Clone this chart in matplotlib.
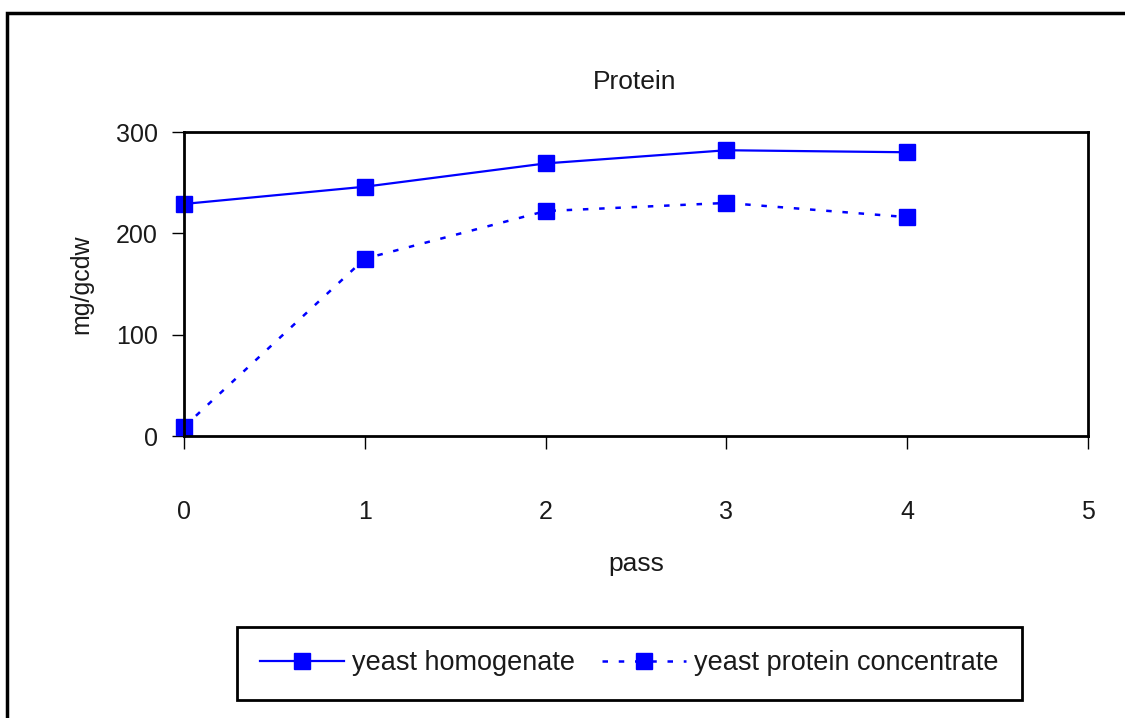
import matplotlib.pyplot as plt
from matplotlib.patches import Rectangle

# data
passes = [0, 1, 2, 3, 4]
homogenate = [229, 246, 269, 282, 280]
concentrate = [9, 175, 222, 230, 216]
x_ticks = [0, 1, 2, 3, 4, 5]
y_ticks = [0, 100, 200, 300]

plt.rcParams["font.family"] = ["Liberation Sans", "DejaVu Sans"]

W, H = 1125, 718
fig = plt.figure(figsize=(W / 100, H / 100), dpi=100)
ax = fig.add_axes([184 / W, 1 - 436 / H, (1088 - 184) / W, (436 - 132) / H])

blue = "#0000FF"
txt = "#1a1a1a"
ax.plot(passes, homogenate, color=blue, lw=1.6, marker="s", ms=11,
        label="yeast homogenate")
ax.plot(passes, concentrate, color=blue, lw=1.8, ls=(0, (2.2, 4.3)), marker="s", ms=11,
        label="yeast protein concentrate")

ax.set_xlim(0, 5)
ax.set_ylim(0, 300)
ax.set_xticks(x_ticks)
ax.set_yticks(y_ticks)
ax.tick_params(axis="x", length=9, width=1, pad=37, labelsize=18, labelcolor=txt)
ax.tick_params(axis="y", length=9, width=1, pad=10, labelsize=18, labelcolor=txt)
for s in ax.spines.values():
    s.set_linewidth(2)
for line in ax.lines:
    line.set_clip_on(False)

ax.set_xlabel("pass", fontsize=19, labelpad=20, color=txt)
ax.set_ylabel("mg/gcdw", fontsize=18, labelpad=16, color=txt)
fig.text(635 / W, 1 - 82 / H, "Protein", fontsize=19, ha="center", va="center", color=txt)

leg = fig.legend(loc="center", bbox_to_anchor=(629.5 / W, 1 - 663.5 / H), ncol=2,
                 fontsize=19.5, frameon=True, fancybox=False, edgecolor="black",
                 framealpha=1, handlelength=3.1, numpoints=1, columnspacing=1.0,
                 handletextpad=0.3, borderpad=0.85, borderaxespad=0, labelcolor=txt)
leg.get_frame().set_linewidth(2)

# outer chart-area border (cut off on right and bottom)
fig.patches.append(Rectangle((7 / W, -0.05), 1.1, 1 - 13 / H + 0.05, transform=fig.transFigure,
                             fill=False, edgecolor="black", lw=2.5))

fig.savefig("out.png", dpi=100)
